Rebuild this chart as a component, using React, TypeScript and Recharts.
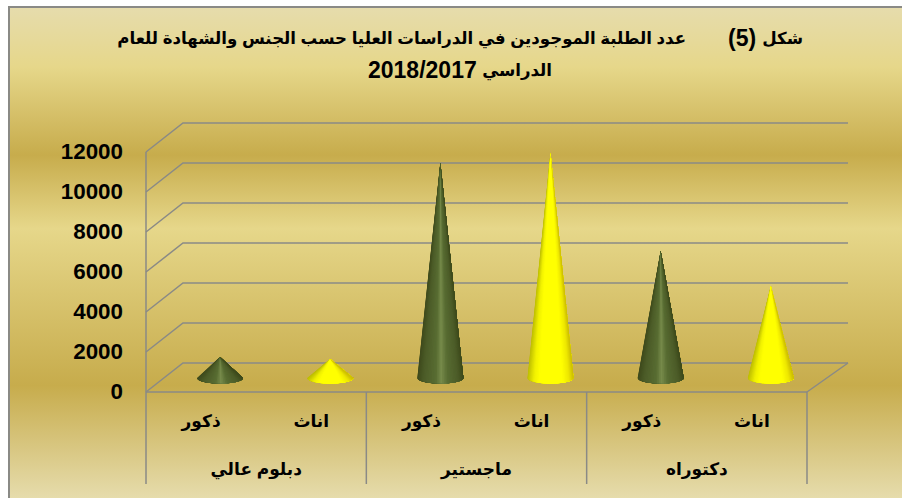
import React from "react";
import { BarChart, Bar, XAxis, YAxis, CartesianGrid } from "recharts";

const titleFigureWord = "شكل";
const titleFigureNumber = "(5)";
const titleMain = "عدد الطلبة الموجودين في الدراسات العليا حسب الجنس والشهادة للعام";
const titleSecondWord = "الدراسي";
const titleSecondYear = "2018/2017";
const genders = ["ذكور", "اناث", "ذكور", "اناث", "ذكور", "اناث"];
const degrees = ["دبلوم عالي", "دبلوم عالي", "ماجستير", "ماجستير", "دكتوراه", "دكتوراه"];
const values = [1050, 950, 10750, 11250, 6350, 4600];
const yTicks = [0, 2000, 4000, 6000, 8000, 10000, 12000];

const data = genders.map((gender, i) => ({ gender, degree: degrees[i], value: values[i] }));

const W = 902, H = 498;
const DX = 37, DY = 29; // 3D wall depth
const CX = 19, CY = 14; // cone plane shift
const GREY = "#8a8a86";
const ARABIC = "Arial, 'Liberation Sans', 'DejaVu Sans', sans-serif";
const LATIN = "'Liberation Sans', Arial, sans-serif";

const GREEN_RAMP: [number, number[]][] = [
  [0, [62, 74, 28]],
  [0.14, [76, 92, 40]],
  [0.4, [88, 108, 50]],
  [0.52, [118, 138, 74]],
  [0.66, [88, 108, 50]],
  [0.88, [76, 92, 40]],
  [1, [62, 74, 28]],
];
const YELLOW_RAMP: [number, number[]][] = [
  [0, [190, 190, 0]],
  [0.14, [240, 240, 0]],
  [0.26, [255, 255, 0]],
  [0.76, [255, 255, 0]],
  [0.9, [238, 232, 0]],
  [1, [205, 190, 0]],
];

function rampColor(ramp: [number, number[]][], u: number) {
  for (let i = 1; i < ramp.length; i++) {
    if (u <= ramp[i][0]) {
      const [a, ca] = ramp[i - 1];
      const [b, cb] = ramp[i];
      const t = (u - a) / (b - a);
      const c = ca.map((v, k) => Math.round(v + (cb[k] - v) * t));
      return `rgb(${c[0]},${c[1]},${c[2]})`;
    }
  }
  const c = ramp[ramp.length - 1][1];
  return `rgb(${c[0]},${c[1]},${c[2]})`;
}

const GridLine = (p: any) => {
  const { x1, x2, y1 } = p;
  const d = `M${x1},${y1} L${x1 + DX},${y1 - DY} L${x2 + DX + 4},${y1 - DY}`;
  const isFloor = Math.abs(y1 - 392) < 0.5;
  return (
    <g>
      <path d={d} fill="none" stroke={GREY} strokeWidth={1.5} />
      {isFloor && <path d={`M${x2},${y1} L${x2 + DX + 4},${y1 - DY}`} fill="none" stroke={GREY} strokeWidth={1.5} />}
    </g>
  );
};

const FACETS = 40;

const Cone = (p: any) => {
  const { x, y, width, height, index } = p;
  const cx = x + width / 2 + CX;
  const baseY = y + height - CY;
  const apexY = y - CY;
  const rx = width / 2;
  const ry = 5.5;
  const ramp = index % 2 === 0 ? GREEN_RAMP : YELLOW_RAMP;
  const facets = [];
  for (let i = 0; i < FACETS; i++) {
    const a1 = Math.PI - (Math.PI * i) / FACETS;
    const mid = a1 - Math.PI / FACETS / 2;
    const u = (1 + Math.cos(mid)) / 2;
    const color = rampColor(ramp, u);
    const d = `M${cx},${apexY} L${cx + rx * Math.cos(a1)},${baseY + ry * Math.sin(a1)} A${rx},${ry} 0 0 0 ${cx + rx},${baseY} Z`;
    facets.push(<path key={i} d={d} fill={color} />);
  }
  return <g>{facets}</g>;
};

const GroupTick = (p: any) => {
  const { x, y, index, payload } = p;
  if (index % 2 !== 0) return null;
  const band = 110.17;
  const half = band / 2;
  const top = 392;
  const bottom = 484;
  return (
    <g>
      <line x1={x - half} x2={x - half} y1={top} y2={bottom} stroke={GREY} strokeWidth={1.5} />
      {index === 4 && <line x1={x + band + half} x2={x + band + half} y1={top} y2={bottom} stroke={GREY} strokeWidth={1.5} />}
      <text x={x + half} y={y + 35} textAnchor="middle" direction="rtl" fontFamily={ARABIC} fontWeight={700} fontSize={17} fill="#000">
        {payload.value}
      </text>
    </g>
  );
};

const GenderTick = (p: any) => (
  <text x={p.x} y={p.y + 27} textAnchor="middle" direction="rtl" fontFamily={ARABIC} fontWeight={700} fontSize={17} fill="#000">
    {p.payload.value}
  </text>
);

const ValueTick = (p: any) => (
  <text x={p.x + 1} y={p.y + 6.5} textAnchor="end" fontFamily={LATIN} fontWeight={700} fontSize={22.4} fill="#000">
    {p.payload.value}
  </text>
);

export default function App() {
  const titleBase: React.CSSProperties = {
    position: "absolute",
    direction: "rtl",
    fontFamily: ARABIC,
    fontWeight: 700,
    fontSize: 16.6,
    whiteSpace: "pre",
    color: "#000",
  };
  const latinBase: React.CSSProperties = { ...titleBase, fontFamily: LATIN, fontSize: 23, direction: "ltr" };
  return (
    <div style={{ position: "absolute", left: 0, top: 0, width: W, height: H, background: "#fff", overflow: "hidden" }}>
      <div
        style={{
          position: "absolute",
          left: 8,
          top: 6,
          width: W,
          height: 492,
          boxSizing: "border-box",
          borderLeft: "2px solid #8a8a86",
          borderTop: "2px solid #8a8a86",
          background:
            "linear-gradient(180deg,#E6DCAC 0%,#E6D78A 12%,#C7AC4C 30%,#E6D78A 45%,#C7AC4C 77%,#E6DCAC 100%)",
        }}
      />
      <div style={{ position: "absolute", left: 0, top: 0 }}>
        <BarChart
          width={W}
          height={H}
          data={data}
          margin={{ top: 152, right: 95, bottom: 14, left: 66 }}
          barSize={46}
        >
          <CartesianGrid vertical={false} horizontal={GridLine as any} />
          <XAxis
            dataKey="gender"
            xAxisId={0}
            interval={0}
            height={40}
            axisLine={{ stroke: GREY, strokeWidth: 1.5 }}
            tickLine={false}
            tick={GenderTick as any}
          />
          <XAxis
            dataKey="degree"
            xAxisId={1}
            interval={0}
            height={52}
            axisLine={false}
            tickLine={false}
            tick={GroupTick as any}
          />
          <YAxis
            domain={[0, 12000]}
            ticks={yTicks}
            width={80}
            axisLine={{ stroke: GREY, strokeWidth: 1.5 }}
            tickLine={false}
            tickMargin={18}
            tick={ValueTick as any}
          />
          <Bar dataKey="value" xAxisId={0} shape={Cone as any} isAnimationActive={false} />
        </BarChart>
      </div>
      <div style={{ ...titleBase, right: W - 803, top: 29 }}>{titleFigureWord}</div>
      <div style={{ ...latinBase, left: 728, top: 25 }}>{titleFigureNumber}</div>
      <div style={{ ...titleBase, right: W - 686, top: 29 }}>{titleMain}</div>
      <div style={{ ...titleBase, right: W - 552, top: 61 }}>{titleSecondWord}</div>
      <div style={{ ...latinBase, left: 368, top: 57 }}>{titleSecondYear}</div>
    </div>
  );
}
